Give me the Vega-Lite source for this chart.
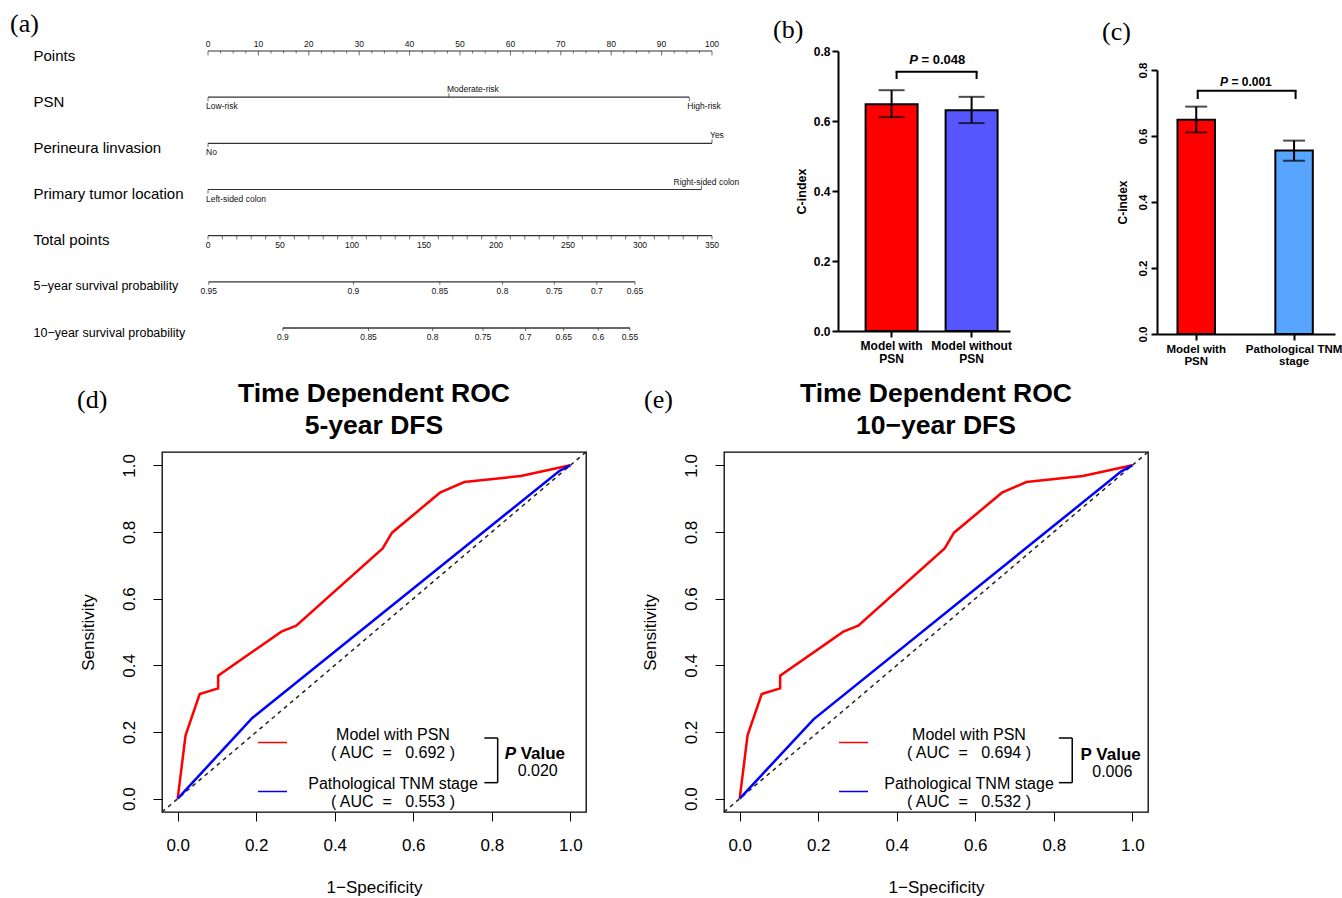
{
  "$schema": "https://vega.github.io/schema/vega-lite/v6.json",
  "background": "white",
  "padding": {"left": 10, "top": 11, "right": 2, "bottom": 2},
  "config": {
    "font": "Liberation Sans",
    "view": {"stroke": null},
    "axis": {"grid": false, "domainColor": "black", "tickColor": "black", "labelColor": "black", "titleColor": "black"},
    "title": {"color": "black"},
    "legend": {"labelColor": "black"}
  },
  "datasets": {
    "points_ticks": [
      {"row": "Points", "value": 0}, {"row": "Points", "value": 2.5}, {"row": "Points", "value": 5}, {"row": "Points", "value": 7.5},
      {"row": "Points", "value": 10}, {"row": "Points", "value": 12.5}, {"row": "Points", "value": 15}, {"row": "Points", "value": 17.5},
      {"row": "Points", "value": 20}, {"row": "Points", "value": 22.5}, {"row": "Points", "value": 25}, {"row": "Points", "value": 27.5},
      {"row": "Points", "value": 30}, {"row": "Points", "value": 32.5}, {"row": "Points", "value": 35}, {"row": "Points", "value": 37.5},
      {"row": "Points", "value": 40}, {"row": "Points", "value": 42.5}, {"row": "Points", "value": 45}, {"row": "Points", "value": 47.5},
      {"row": "Points", "value": 50}, {"row": "Points", "value": 52.5}, {"row": "Points", "value": 55}, {"row": "Points", "value": 57.5},
      {"row": "Points", "value": 60}, {"row": "Points", "value": 62.5}, {"row": "Points", "value": 65}, {"row": "Points", "value": 67.5},
      {"row": "Points", "value": 70}, {"row": "Points", "value": 72.5}, {"row": "Points", "value": 75}, {"row": "Points", "value": 77.5},
      {"row": "Points", "value": 80}, {"row": "Points", "value": 82.5}, {"row": "Points", "value": 85}, {"row": "Points", "value": 87.5},
      {"row": "Points", "value": 90}, {"row": "Points", "value": 92.5}, {"row": "Points", "value": 95}, {"row": "Points", "value": 97.5},
      {"row": "Points", "value": 100}
    ],
    "total_ticks": [
      {"row": "Total points", "value": 0}, {"row": "Total points", "value": 10}, {"row": "Total points", "value": 20}, {"row": "Total points", "value": 30},
      {"row": "Total points", "value": 40}, {"row": "Total points", "value": 50}, {"row": "Total points", "value": 60}, {"row": "Total points", "value": 70},
      {"row": "Total points", "value": 80}, {"row": "Total points", "value": 90}, {"row": "Total points", "value": 100}, {"row": "Total points", "value": 110},
      {"row": "Total points", "value": 120}, {"row": "Total points", "value": 130}, {"row": "Total points", "value": 140}, {"row": "Total points", "value": 150},
      {"row": "Total points", "value": 160}, {"row": "Total points", "value": 170}, {"row": "Total points", "value": 180}, {"row": "Total points", "value": 190},
      {"row": "Total points", "value": 200}, {"row": "Total points", "value": 210}, {"row": "Total points", "value": 220}, {"row": "Total points", "value": 230},
      {"row": "Total points", "value": 240}, {"row": "Total points", "value": 250}, {"row": "Total points", "value": 260}, {"row": "Total points", "value": 270},
      {"row": "Total points", "value": 280}, {"row": "Total points", "value": 290}, {"row": "Total points", "value": 300}, {"row": "Total points", "value": 310},
      {"row": "Total points", "value": 320}, {"row": "Total points", "value": 330}, {"row": "Total points", "value": 340}, {"row": "Total points", "value": 350}
    ],
    "nomo_vars": [
      {"row": "PSN", "level": "Low-risk", "points": 0},
      {"row": "PSN", "level": "Moderate-risk", "points": 47.8},
      {"row": "PSN", "level": "High-risk", "points": 95.5},
      {"row": "Perineura linvasion", "level": "No", "points": 0},
      {"row": "Perineura linvasion", "level": "Yes", "points": 100},
      {"row": "Primary tumor location", "level": "Left-sided colon", "points": 0},
      {"row": "Primary tumor location", "level": "Right-sided colon", "points": 97.9}
    ],
    "nomo_surv": [
      {"row": "5−year survival probability", "prob": 0.95, "total": 0.5},
      {"row": "5−year survival probability", "prob": 0.9, "total": 101},
      {"row": "5−year survival probability", "prob": 0.85, "total": 161},
      {"row": "5−year survival probability", "prob": 0.8, "total": 204.5},
      {"row": "5−year survival probability", "prob": 0.75, "total": 240.5},
      {"row": "5−year survival probability", "prob": 0.7, "total": 270},
      {"row": "5−year survival probability", "prob": 0.65, "total": 296.5},
      {"row": "10−year survival probability", "prob": 0.9, "total": 52},
      {"row": "10−year survival probability", "prob": 0.85, "total": 111.5},
      {"row": "10−year survival probability", "prob": 0.8, "total": 156},
      {"row": "10−year survival probability", "prob": 0.75, "total": 191},
      {"row": "10−year survival probability", "prob": 0.7, "total": 220.5},
      {"row": "10−year survival probability", "prob": 0.65, "total": 247},
      {"row": "10−year survival probability", "prob": 0.6, "total": 271},
      {"row": "10−year survival probability", "prob": 0.55, "total": 293}
    ],
    "cindex": [
      {"panel": "b", "model": "Model with PSN", "cindex": 0.648, "lower": 0.611, "upper": 0.688},
      {"panel": "b", "model": "Model without PSN", "cindex": 0.631, "lower": 0.594, "upper": 0.669},
      {"panel": "c", "model": "Model with PSN", "cindex": 0.649, "lower": 0.611, "upper": 0.689},
      {"panel": "c", "model": "Pathological TNM stage", "cindex": 0.556, "lower": 0.525, "upper": 0.586}
    ],
    "cindex_p": [
      {"panel": "b", "model": "Model with PSN", "vs": "Model without PSN", "p": 0.048},
      {"panel": "c", "model": "Model with PSN", "vs": "Pathological TNM stage", "p": 0.001}
    ],
    "roc": [
      {"panel": "5-year", "model": "Model with PSN", "fpr": 0, "tpr": 0},
      {"panel": "5-year", "model": "Model with PSN", "fpr": 0.02, "tpr": 0.19},
      {"panel": "5-year", "model": "Model with PSN", "fpr": 0.056, "tpr": 0.314},
      {"panel": "5-year", "model": "Model with PSN", "fpr": 0.103, "tpr": 0.331},
      {"panel": "5-year", "model": "Model with PSN", "fpr": 0.103, "tpr": 0.369},
      {"panel": "5-year", "model": "Model with PSN", "fpr": 0.264, "tpr": 0.501},
      {"panel": "5-year", "model": "Model with PSN", "fpr": 0.302, "tpr": 0.519},
      {"panel": "5-year", "model": "Model with PSN", "fpr": 0.522, "tpr": 0.751},
      {"panel": "5-year", "model": "Model with PSN", "fpr": 0.546, "tpr": 0.798},
      {"panel": "5-year", "model": "Model with PSN", "fpr": 0.668, "tpr": 0.918},
      {"panel": "5-year", "model": "Model with PSN", "fpr": 0.73, "tpr": 0.95},
      {"panel": "5-year", "model": "Model with PSN", "fpr": 0.874, "tpr": 0.968},
      {"panel": "5-year", "model": "Model with PSN", "fpr": 1, "tpr": 1},
      {"panel": "5-year", "model": "Pathological TNM stage", "fpr": 0, "tpr": 0},
      {"panel": "5-year", "model": "Pathological TNM stage", "fpr": 0.19, "tpr": 0.242},
      {"panel": "5-year", "model": "Pathological TNM stage", "fpr": 0.972, "tpr": 0.983},
      {"panel": "5-year", "model": "Pathological TNM stage", "fpr": 1, "tpr": 1},
      {"panel": "10-year", "model": "Model with PSN", "fpr": 0, "tpr": 0},
      {"panel": "10-year", "model": "Model with PSN", "fpr": 0.02, "tpr": 0.19},
      {"panel": "10-year", "model": "Model with PSN", "fpr": 0.056, "tpr": 0.314},
      {"panel": "10-year", "model": "Model with PSN", "fpr": 0.103, "tpr": 0.331},
      {"panel": "10-year", "model": "Model with PSN", "fpr": 0.103, "tpr": 0.369},
      {"panel": "10-year", "model": "Model with PSN", "fpr": 0.264, "tpr": 0.501},
      {"panel": "10-year", "model": "Model with PSN", "fpr": 0.302, "tpr": 0.519},
      {"panel": "10-year", "model": "Model with PSN", "fpr": 0.522, "tpr": 0.751},
      {"panel": "10-year", "model": "Model with PSN", "fpr": 0.546, "tpr": 0.798},
      {"panel": "10-year", "model": "Model with PSN", "fpr": 0.668, "tpr": 0.918},
      {"panel": "10-year", "model": "Model with PSN", "fpr": 0.73, "tpr": 0.95},
      {"panel": "10-year", "model": "Model with PSN", "fpr": 0.874, "tpr": 0.968},
      {"panel": "10-year", "model": "Model with PSN", "fpr": 1, "tpr": 1},
      {"panel": "10-year", "model": "Pathological TNM stage", "fpr": 0, "tpr": 0},
      {"panel": "10-year", "model": "Pathological TNM stage", "fpr": 0.188, "tpr": 0.238},
      {"panel": "10-year", "model": "Pathological TNM stage", "fpr": 0.972, "tpr": 0.982},
      {"panel": "10-year", "model": "Pathological TNM stage", "fpr": 1, "tpr": 1}
    ],
    "auc_5y": [
      {"model": "Model with PSN", "auc": 0.692},
      {"model": "Pathological TNM stage", "auc": 0.553}
    ],
    "auc_10y": [
      {"model": "Model with PSN", "auc": 0.694},
      {"model": "Pathological TNM stage", "auc": 0.532}
    ],
    "roc_p": [
      {"panel": "5-year", "p": "0.020"},
      {"panel": "10-year", "p": "0.006"}
    ]
  },
  "vconcat": [
    {
      "hconcat": [
        {"width": 47, "height": 330, "data": {"values": []}, "mark": "point"},
        {
          "width": 504,
          "height": 277,
          "title": {"text": "(a)", "anchor": "start", "frame": "group", "dx": -198, "font": "Liberation Serif", "fontSize": 26, "fontWeight": "normal", "offset": 3},
          "encoding": {
            "y": {
              "field": "row", "type": "nominal",
              "scale": {"type": "point", "padding": 0, "domain": ["Points", "PSN", "Perineura linvasion", "Primary tumor location", "Total points", "5−year survival probability", "10−year survival probability"]},
              "axis": {
                "title": null, "domain": false, "ticks": false, "tickSize": 0,
                "labelAlign": "left", "labelBaseline": "middle", "labelPadding": 175, "labelLimit": 300,
                "labelOffset": 4, "labelColor": "black",
                "labelFontSize": {"condition": {"test": "indexof(datum.value, 'survival') >= 0", "value": 12.5}, "value": 15}
              }
            }
          },
          "layer": [
            {
              "data": {"name": "points_ticks"},
              "mark": {"type": "rule", "color": "#333", "strokeWidth": 1.2},
              "encoding": {
                "x": {"aggregate": "min", "field": "value", "type": "quantitative", "scale": {"domain": [0, 100], "nice": false, "zero": false}, "axis": null},
                "x2": {"aggregate": "max", "field": "value"}
              }
            },
            {
              "data": {"name": "points_ticks"},
              "transform": [{"filter": "datum.value % 10 == 0"}],
              "mark": {"type": "tick", "color": "#333", "size": 4.5, "thickness": 1, "yOffset": 2.25},
              "encoding": {"x": {"field": "value", "type": "quantitative", "scale": {"domain": [0, 100], "nice": false, "zero": false}, "axis": null}}
            },
            {
              "data": {"name": "points_ticks"},
              "transform": [{"filter": "datum.value % 10 != 0"}],
              "mark": {"type": "tick", "color": "#333", "size": 2.5, "thickness": 1, "yOffset": 1.25},
              "encoding": {"x": {"field": "value", "type": "quantitative", "scale": {"domain": [0, 100], "nice": false, "zero": false}, "axis": null}}
            },
            {
              "data": {"name": "points_ticks"},
              "transform": [{"filter": "datum.value % 10 == 0"}],
              "mark": {"type": "text", "fontSize": 8.5, "dy": -7, "baseline": "middle", "align": "center", "color": "#111"},
              "encoding": {
                "x": {"field": "value", "type": "quantitative", "scale": {"domain": [0, 100], "nice": false, "zero": false}, "axis": null},
                "text": {"field": "value", "type": "nominal"}
              }
            },
            {
              "data": {"name": "nomo_vars"},
              "mark": {"type": "rule", "color": "#333", "strokeWidth": 1.2},
              "encoding": {
                "x": {"aggregate": "min", "field": "points", "type": "quantitative", "scale": {"domain": [0, 100], "nice": false, "zero": false}, "axis": null},
                "x2": {"aggregate": "max", "field": "points"}
              }
            },
            {
              "data": {"name": "nomo_vars"},
              "transform": [{"window": [{"op": "row_number", "as": "idx"}], "groupby": ["row"]}, {"filter": "datum.idx % 2 == 1"}],
              "mark": {"type": "tick", "color": "#333", "size": 4, "thickness": 1, "yOffset": 2},
              "encoding": {"x": {"field": "points", "type": "quantitative", "scale": {"domain": [0, 100], "nice": false, "zero": false}, "axis": null}}
            },
            {
              "data": {"name": "nomo_vars"},
              "transform": [{"window": [{"op": "row_number", "as": "idx"}], "groupby": ["row"]}, {"filter": "datum.idx % 2 == 0"}],
              "mark": {"type": "tick", "color": "#333", "size": 4, "thickness": 1, "yOffset": -2},
              "encoding": {"x": {"field": "points", "type": "quantitative", "scale": {"domain": [0, 100], "nice": false, "zero": false}, "axis": null}}
            },
            {
              "data": {"name": "nomo_vars"},
              "transform": [{"window": [{"op": "row_number", "as": "idx"}], "groupby": ["row"]}, {"filter": "datum.idx % 2 == 1"}],
              "mark": {"type": "text", "fontSize": 8.5, "dy": 9, "dx": -2, "baseline": "middle", "align": "left", "color": "#111"},
              "encoding": {
                "x": {"field": "points", "type": "quantitative", "scale": {"domain": [0, 100], "nice": false, "zero": false}, "axis": null},
                "text": {"field": "level", "type": "nominal"}
              }
            },
            {
              "data": {"name": "nomo_vars"},
              "transform": [{"window": [{"op": "row_number", "as": "idx"}], "groupby": ["row"]}, {"filter": "datum.idx % 2 == 0 && datum.level != 'Right-sided colon'"}],
              "mark": {"type": "text", "fontSize": 8.5, "dy": -8, "dx": -2, "baseline": "middle", "align": "left", "color": "#111"},
              "encoding": {
                "x": {"field": "points", "type": "quantitative", "scale": {"domain": [0, 100], "nice": false, "zero": false}, "axis": null},
                "text": {"field": "level", "type": "nominal"}
              }
            },
            {
              "data": {"name": "nomo_vars"},
              "transform": [{"filter": "datum.level == 'Right-sided colon'"}],
              "mark": {"type": "text", "fontSize": 8.5, "dy": -8, "dx": 5, "baseline": "middle", "align": "center", "color": "#111"},
              "encoding": {
                "x": {"field": "points", "type": "quantitative", "scale": {"domain": [0, 100], "nice": false, "zero": false}, "axis": null},
                "text": {"field": "level", "type": "nominal"}
              }
            },
            {
              "data": {"name": "total_ticks"},
              "mark": {"type": "rule", "color": "#333", "strokeWidth": 1.2},
              "encoding": {
                "x": {"aggregate": "min", "field": "value", "type": "quantitative", "scale": {"domain": [0, 350], "nice": false, "zero": false}, "axis": null},
                "x2": {"aggregate": "max", "field": "value"}
              }
            },
            {
              "data": {"name": "total_ticks"},
              "mark": {"type": "tick", "color": "#333", "size": 3.5, "thickness": 1, "yOffset": 1.75},
              "encoding": {"x": {"field": "value", "type": "quantitative", "scale": {"domain": [0, 350], "nice": false, "zero": false}, "axis": null}}
            },
            {
              "data": {"name": "total_ticks"},
              "transform": [{"filter": "datum.value % 50 == 0"}],
              "mark": {"type": "text", "fontSize": 8.5, "dy": 9, "baseline": "middle", "align": "center", "color": "#111"},
              "encoding": {
                "x": {"field": "value", "type": "quantitative", "scale": {"domain": [0, 350], "nice": false, "zero": false}, "axis": null},
                "text": {"field": "value", "type": "nominal"}
              }
            },
            {
              "data": {"name": "nomo_surv"},
              "mark": {"type": "rule", "color": "#333", "strokeWidth": 1.4},
              "encoding": {
                "x": {"aggregate": "min", "field": "total", "type": "quantitative", "scale": {"domain": [0, 350], "nice": false, "zero": false}, "axis": null},
                "x2": {"aggregate": "max", "field": "total"}
              }
            },
            {
              "data": {"name": "nomo_surv"},
              "mark": {"type": "tick", "color": "#333", "size": 3, "thickness": 1, "yOffset": 1.5},
              "encoding": {"x": {"field": "total", "type": "quantitative", "scale": {"domain": [0, 350], "nice": false, "zero": false}, "axis": null}}
            },
            {
              "data": {"name": "nomo_surv"},
              "mark": {"type": "text", "fontSize": 8.5, "dy": 9, "baseline": "middle", "align": "center", "color": "#111"},
              "encoding": {
                "x": {"field": "total", "type": "quantitative", "scale": {"domain": [0, 350], "nice": false, "zero": false}, "axis": null},
                "text": {"field": "prob", "type": "nominal"}
              }
            }
          ],
          "resolve": {"scale": {"x": "independent"}}
        },
        {"width": 126, "height": 1, "data": {"values": []}, "mark": "point"},
        {
          "width": 172,
          "height": 280,
          "title": {"text": "(b)", "anchor": "start", "frame": "group", "dx": -65, "font": "Liberation Serif", "fontSize": 26, "fontWeight": "normal", "offset": 2},
          "data": {"name": "cindex"},
          "transform": [{"filter": "datum.panel == 'b'"}],
          "encoding": {
            "x": {
              "field": "model", "type": "nominal",
              "scale": {"domain": ["Model with PSN", "Model without PSN"], "paddingInner": 0.35, "paddingOuter": 0.25, "align": 0.69},
              "axis": {
                "title": null, "labelAngle": 0,
                "labelExpr": "[substring(datum.label, 0, lastindexof(datum.label, ' ')), substring(datum.label, lastindexof(datum.label, ' ') + 1)]",
                "labelFontSize": 12, "labelFontWeight": "bold", "labelPadding": 3, "labelLineHeight": 13.5, "labelBaseline": "top",
                "tickSize": 6, "tickWidth": 2, "domainWidth": 2
              }
            }
          },
          "layer": [
            {
              "mark": {"type": "bar", "stroke": "black", "strokeWidth": 2},
              "encoding": {
                "y": {
                  "field": "cindex", "type": "quantitative",
                  "scale": {"domain": [0, 0.8], "nice": false},
                  "axis": {
                    "values": [0, 0.2, 0.4, 0.6, 0.8], "format": ".1f", "title": "C-index",
                    "titleFontSize": 12.5, "titleFontWeight": "bold", "titlePadding": 5,
                    "labelFontSize": 12, "labelFontWeight": "bold", "labelPadding": 2,
                    "tickSize": 6, "tickWidth": 2, "domainWidth": 2
                  }
                },
                "color": {"condition": {"test": "datum.model == 'Model with PSN'", "value": "#FF0000"}, "value": "#5656FF"}
              }
            },
            {
              "mark": {"type": "rule", "color": "black", "strokeWidth": 2},
              "encoding": {"y": {"field": "lower", "type": "quantitative"}, "y2": {"field": "upper"}}
            },
            {
              "mark": {"type": "tick", "color": "black", "size": 26, "thickness": 2},
              "encoding": {"y": {"field": "lower", "type": "quantitative"}}
            },
            {
              "mark": {"type": "tick", "color": "black", "size": 26, "thickness": 2},
              "encoding": {"y": {"field": "upper", "type": "quantitative"}}
            },
            {
              "mark": {"type": "rule", "color": "black", "strokeWidth": 2, "xOffset": 5},
              "encoding": {"y": {"datum": 0.72}, "y2": {"datum": 0.741}}
            },
            {
              "mark": {"type": "line", "color": "black", "strokeWidth": 2, "xOffset": 5, "strokeCap": "square"},
              "encoding": {"y": {"datum": 0.741}}
            },
            {
              "data": {"name": "cindex_p"},
              "transform": [{"filter": "datum.panel == 'b'"}],
              "mark": {"type": "text", "text": "P", "fontStyle": "italic", "fontWeight": "bold", "fontSize": 13, "align": "left", "baseline": "middle", "dx": 17.6},
              "encoding": {"y": {"datum": 0.773}}
            },
            {
              "data": {"name": "cindex_p"},
              "transform": [{"filter": "datum.panel == 'b'"}, {"calculate": "'= ' + format(datum.p, '.3f')", "as": "ptext"}],
              "mark": {"type": "text", "fontWeight": "bold", "fontSize": 13, "align": "left", "baseline": "middle", "dx": 29.9},
              "encoding": {"y": {"datum": 0.773}, "text": {"field": "ptext"}}
            }
          ]
        },
        {"width": 147, "height": 1, "data": {"values": []}, "mark": "point"},
        {
          "width": 178,
          "height": 283,
          "title": {"text": "(c)", "anchor": "start", "frame": "group", "dx": -55, "font": "Liberation Serif", "fontSize": 26, "fontWeight": "normal", "offset": 6},
          "data": {"name": "cindex"},
          "transform": [{"filter": "datum.panel == 'c'"}],
          "encoding": {
            "x": {
              "field": "model", "type": "nominal",
              "scale": {"domain": ["Model with PSN", "Pathological TNM stage"], "paddingInner": 0.617, "paddingOuter": 0.218, "align": 0.48},
              "axis": {
                "title": null, "labelAngle": 0,
                "labelExpr": "[substring(datum.label, 0, lastindexof(datum.label, ' ')), substring(datum.label, lastindexof(datum.label, ' ') + 1)]",
                "labelFontSize": 11.5, "labelFontWeight": "bold", "labelPadding": 3, "labelLineHeight": 12.5, "labelBaseline": "top",
                "tickSize": 6, "tickWidth": 2, "domainWidth": 2
              }
            }
          },
          "layer": [
            {
              "mark": {"type": "bar", "stroke": "black", "strokeWidth": 2},
              "encoding": {
                "y": {
                  "field": "cindex", "type": "quantitative",
                  "scale": {"domain": [0, 0.8], "nice": false, "range": [283, 19]},
                  "axis": {
                    "values": [0, 0.2, 0.4, 0.6, 0.8], "format": ".1f", "title": "C-index",
                    "titleFontSize": 12, "titleFontWeight": "bold", "titlePadding": 8,
                    "labelFontSize": 11.5, "labelFontWeight": "bold", "labelPadding": 3,
                    "labelAngle": -90, "labelAlign": "center", "labelBaseline": "bottom",
                    "tickSize": 6, "tickWidth": 2, "domainWidth": 2
                  }
                },
                "color": {"condition": {"test": "datum.model == 'Model with PSN'", "value": "#FF0000"}, "value": "#57A5FF"}
              }
            },
            {
              "mark": {"type": "rule", "color": "black", "strokeWidth": 2},
              "encoding": {"y": {"field": "lower", "type": "quantitative"}, "y2": {"field": "upper"}}
            },
            {
              "mark": {"type": "tick", "color": "black", "size": 22, "thickness": 2},
              "encoding": {"y": {"field": "lower", "type": "quantitative"}}
            },
            {
              "mark": {"type": "tick", "color": "black", "size": 22, "thickness": 2},
              "encoding": {"y": {"field": "upper", "type": "quantitative"}}
            },
            {
              "mark": {"type": "rule", "color": "black", "strokeWidth": 2, "xOffset": 1.5},
              "encoding": {"y": {"datum": 0.712}, "y2": {"datum": 0.737}}
            },
            {
              "mark": {"type": "line", "color": "black", "strokeWidth": 2, "xOffset": 1.5, "strokeCap": "square"},
              "encoding": {"y": {"datum": 0.737}}
            },
            {
              "data": {"name": "cindex_p"},
              "transform": [{"filter": "datum.panel == 'c'"}],
              "mark": {"type": "text", "text": "P", "fontStyle": "italic", "fontWeight": "bold", "fontSize": 12, "align": "left", "baseline": "middle", "dx": 23.9},
              "encoding": {"y": {"datum": 0.765}}
            },
            {
              "data": {"name": "cindex_p"},
              "transform": [{"filter": "datum.panel == 'c'"}, {"calculate": "'= ' + format(datum.p, '.3f')", "as": "ptext"}],
              "mark": {"type": "text", "fontWeight": "bold", "fontSize": 12, "align": "left", "baseline": "middle", "dx": 35.2},
              "encoding": {"y": {"datum": 0.765}, "text": {"field": "ptext"}}
            }
          ]
        }
      ],
      "spacing": 0,
      "bounds": "flush"
    },
    {
      "hconcat": [
        {
          "width": 1, "height": 1, "data": {"values": []}, "mark": "point",
          "title": {"text": "(d)", "anchor": "start", "frame": "group", "dx": -84, "font": "Liberation Serif", "fontSize": 26, "fontWeight": "normal", "offset": 39}
        },
        {
          "width": 424,
          "height": 360,
          "view": {"stroke": "black", "strokeWidth": 1.3},
          "title": {"text": ["Time Dependent ROC", "5-year DFS"], "fontSize": 26.5, "fontWeight": "bold", "lineHeight": 31.5, "offset": 12, "anchor": "middle"},
          "layer": [
            {
              "data": {"values": [{}]},
              "mark": {"type": "rule", "color": "#222", "strokeWidth": 1.5, "strokeDash": [4, 4]},
              "encoding": {"x": {"datum": -0.04}, "y": {"datum": -0.04}, "x2": {"datum": 1.04}, "y2": {"datum": 1.04}}
            },
            {
              "data": {"name": "roc"},
              "transform": [
                {"filter": "datum.panel == '5-year'"},
                {"lookup": "model", "from": {"data": {"name": "auc_5y"}, "key": "model", "fields": ["auc"]}},
                {"calculate": "datum.model + '\\n( AUC\u00a0 =\u00a0\u00a0 ' + format(datum.auc, '.3f') + ' )'", "as": "series"}
              ],
              "mark": {"type": "line", "strokeWidth": 2.5},
              "encoding": {
                "x": {
                  "field": "fpr", "type": "quantitative",
                  "scale": {"domain": [-0.04, 1.04], "nice": false, "zero": false},
                  "axis": {"values": [0, 0.2, 0.4, 0.6, 0.8, 1], "format": ".1f", "title": "1−Specificity", "titleFontSize": 17, "titleFontWeight": "normal", "titlePadding": 26.5, "labelFontSize": 17, "labelPadding": 16, "tickSize": 9, "domain": false}
                },
                "y": {
                  "field": "tpr", "type": "quantitative",
                  "scale": {"domain": [-0.04, 1.04], "nice": false, "zero": false},
                  "axis": {"values": [0, 0.2, 0.4, 0.6, 0.8, 1], "format": ".1f", "title": "Sensitivity", "titleFontSize": 17, "titleFontWeight": "normal", "titlePadding": 23, "labelFontSize": 17, "labelPadding": 15, "labelAngle": -90, "labelAlign": "center", "labelBaseline": "bottom", "tickSize": 9, "domain": false}
                },
                "color": {
                  "field": "series", "type": "nominal",
                  "scale": {"range": ["#FF0000", "#0000FF"]},
                  "legend": {"title": null, "orient": "none", "legendX": 95, "legendY": 275, "padding": 0, "symbolType": "stroke", "symbolSize": 841, "symbolStrokeWidth": 1.5, "labelExpr": "split(datum.label, '\\n')", "labelFontSize": 16, "labelAlign": "center", "labelBaseline": "bottom", "labelOffset": 105, "labelLimit": 400, "rowPadding": 14}
                }
              }
            },
            {
              "data": {"values": [{}]},
              "mark": {"type": "rule", "color": "black", "strokeWidth": 1.5},
              "encoding": {"x": {"datum": 0.815}, "y": {"datum": 0.048}, "y2": {"datum": 0.182}}
            },
            {
              "data": {"values": [{}]},
              "mark": {"type": "rule", "color": "black", "strokeWidth": 1.5},
              "encoding": {"x": {"datum": 0.781}, "x2": {"datum": 0.815}, "y": {"datum": 0.182}}
            },
            {
              "data": {"values": [{}]},
              "mark": {"type": "rule", "color": "black", "strokeWidth": 1.5},
              "encoding": {"x": {"datum": 0.781}, "x2": {"datum": 0.815}, "y": {"datum": 0.048}}
            },
            {
              "data": {"values": [{}]},
              "mark": {"type": "text", "text": "P", "fontStyle": "italic", "fontWeight": "bold", "fontSize": 17, "align": "left", "baseline": "middle", "dx": -30.7},
              "encoding": {"x": {"datum": 0.911}, "y": {"datum": 0.135}}
            },
            {
              "data": {"values": [{}]},
              "mark": {"type": "text", "text": "Value", "fontWeight": "bold", "fontSize": 17, "align": "left", "baseline": "middle", "dx": -14.7},
              "encoding": {"x": {"datum": 0.911}, "y": {"datum": 0.135}}
            },
            {
              "data": {"name": "roc_p"},
              "transform": [{"filter": "datum.panel == '5-year'"}],
              "mark": {"type": "text", "fontSize": 16, "align": "center", "baseline": "middle"},
              "encoding": {"x": {"datum": 0.917}, "y": {"datum": 0.082}, "text": {"field": "p"}}
            }
          ]
        },
        {"width": 137, "height": 1, "data": {"values": []}, "mark": "point"},
        {
          "width": 1, "height": 1, "data": {"values": []}, "mark": "point",
          "title": {"text": "(e)", "anchor": "start", "frame": "group", "dx": -79, "font": "Liberation Serif", "fontSize": 26, "fontWeight": "normal", "offset": 39}
        },
        {
          "width": 424,
          "height": 360,
          "view": {"stroke": "black", "strokeWidth": 1.3},
          "title": {"text": ["Time Dependent ROC", "10−year DFS"], "fontSize": 26.5, "fontWeight": "bold", "lineHeight": 31.5, "offset": 12, "anchor": "middle"},
          "layer": [
            {
              "data": {"values": [{}]},
              "mark": {"type": "rule", "color": "#222", "strokeWidth": 1.5, "strokeDash": [4, 4]},
              "encoding": {"x": {"datum": -0.04}, "y": {"datum": -0.04}, "x2": {"datum": 1.04}, "y2": {"datum": 1.04}}
            },
            {
              "data": {"name": "roc"},
              "transform": [
                {"filter": "datum.panel == '10-year'"},
                {"lookup": "model", "from": {"data": {"name": "auc_10y"}, "key": "model", "fields": ["auc"]}},
                {"calculate": "datum.model + '\\n( AUC\u00a0 =\u00a0\u00a0 ' + format(datum.auc, '.3f') + ' )'", "as": "series"}
              ],
              "mark": {"type": "line", "strokeWidth": 2.5},
              "encoding": {
                "x": {
                  "field": "fpr", "type": "quantitative",
                  "scale": {"domain": [-0.04, 1.04], "nice": false, "zero": false},
                  "axis": {"values": [0, 0.2, 0.4, 0.6, 0.8, 1], "format": ".1f", "title": "1−Specificity", "titleFontSize": 17, "titleFontWeight": "normal", "titlePadding": 26.5, "labelFontSize": 17, "labelPadding": 16, "tickSize": 9, "domain": false}
                },
                "y": {
                  "field": "tpr", "type": "quantitative",
                  "scale": {"domain": [-0.04, 1.04], "nice": false, "zero": false},
                  "axis": {"values": [0, 0.2, 0.4, 0.6, 0.8, 1], "format": ".1f", "title": "Sensitivity", "titleFontSize": 17, "titleFontWeight": "normal", "titlePadding": 23, "labelFontSize": 17, "labelPadding": 15, "labelAngle": -90, "labelAlign": "center", "labelBaseline": "bottom", "tickSize": 9, "domain": false}
                },
                "color": {
                  "field": "series", "type": "nominal",
                  "scale": {"range": ["#FF0000", "#0000FF"]},
                  "legend": {"title": null, "orient": "none", "legendX": 114, "legendY": 275, "padding": 0, "symbolType": "stroke", "symbolSize": 841, "symbolStrokeWidth": 1.5, "labelExpr": "split(datum.label, '\\n')", "labelFontSize": 16, "labelAlign": "center", "labelBaseline": "bottom", "labelOffset": 100, "labelLimit": 400, "rowPadding": 14}
                }
              }
            },
            {
              "data": {"values": [{}]},
              "mark": {"type": "rule", "color": "black", "strokeWidth": 1.5},
              "encoding": {"x": {"datum": 0.847}, "y": {"datum": 0.048}, "y2": {"datum": 0.182}}
            },
            {
              "data": {"values": [{}]},
              "mark": {"type": "rule", "color": "black", "strokeWidth": 1.5},
              "encoding": {"x": {"datum": 0.813}, "x2": {"datum": 0.847}, "y": {"datum": 0.182}}
            },
            {
              "data": {"values": [{}]},
              "mark": {"type": "rule", "color": "black", "strokeWidth": 1.5},
              "encoding": {"x": {"datum": 0.813}, "x2": {"datum": 0.847}, "y": {"datum": 0.048}}
            },
            {
              "data": {"values": [{}]},
              "mark": {"type": "text", "text": "P Value", "fontWeight": "bold", "fontSize": 17, "align": "center", "baseline": "middle"},
              "encoding": {"x": {"datum": 0.945}, "y": {"datum": 0.13}}
            },
            {
              "data": {"name": "roc_p"},
              "transform": [{"filter": "datum.panel == '10-year'"}],
              "mark": {"type": "text", "fontSize": 16, "align": "center", "baseline": "middle"},
              "encoding": {"x": {"datum": 0.949}, "y": {"datum": 0.08}, "text": {"field": "p"}}
            }
          ]
        }
      ],
      "spacing": 0,
      "bounds": "flush",
      "resolve": {"scale": {"color": "independent"}}
    }
  ],
  "spacing": -1,
  "bounds": "full",
  "resolve": {"scale": {"color": "independent"}}
}
